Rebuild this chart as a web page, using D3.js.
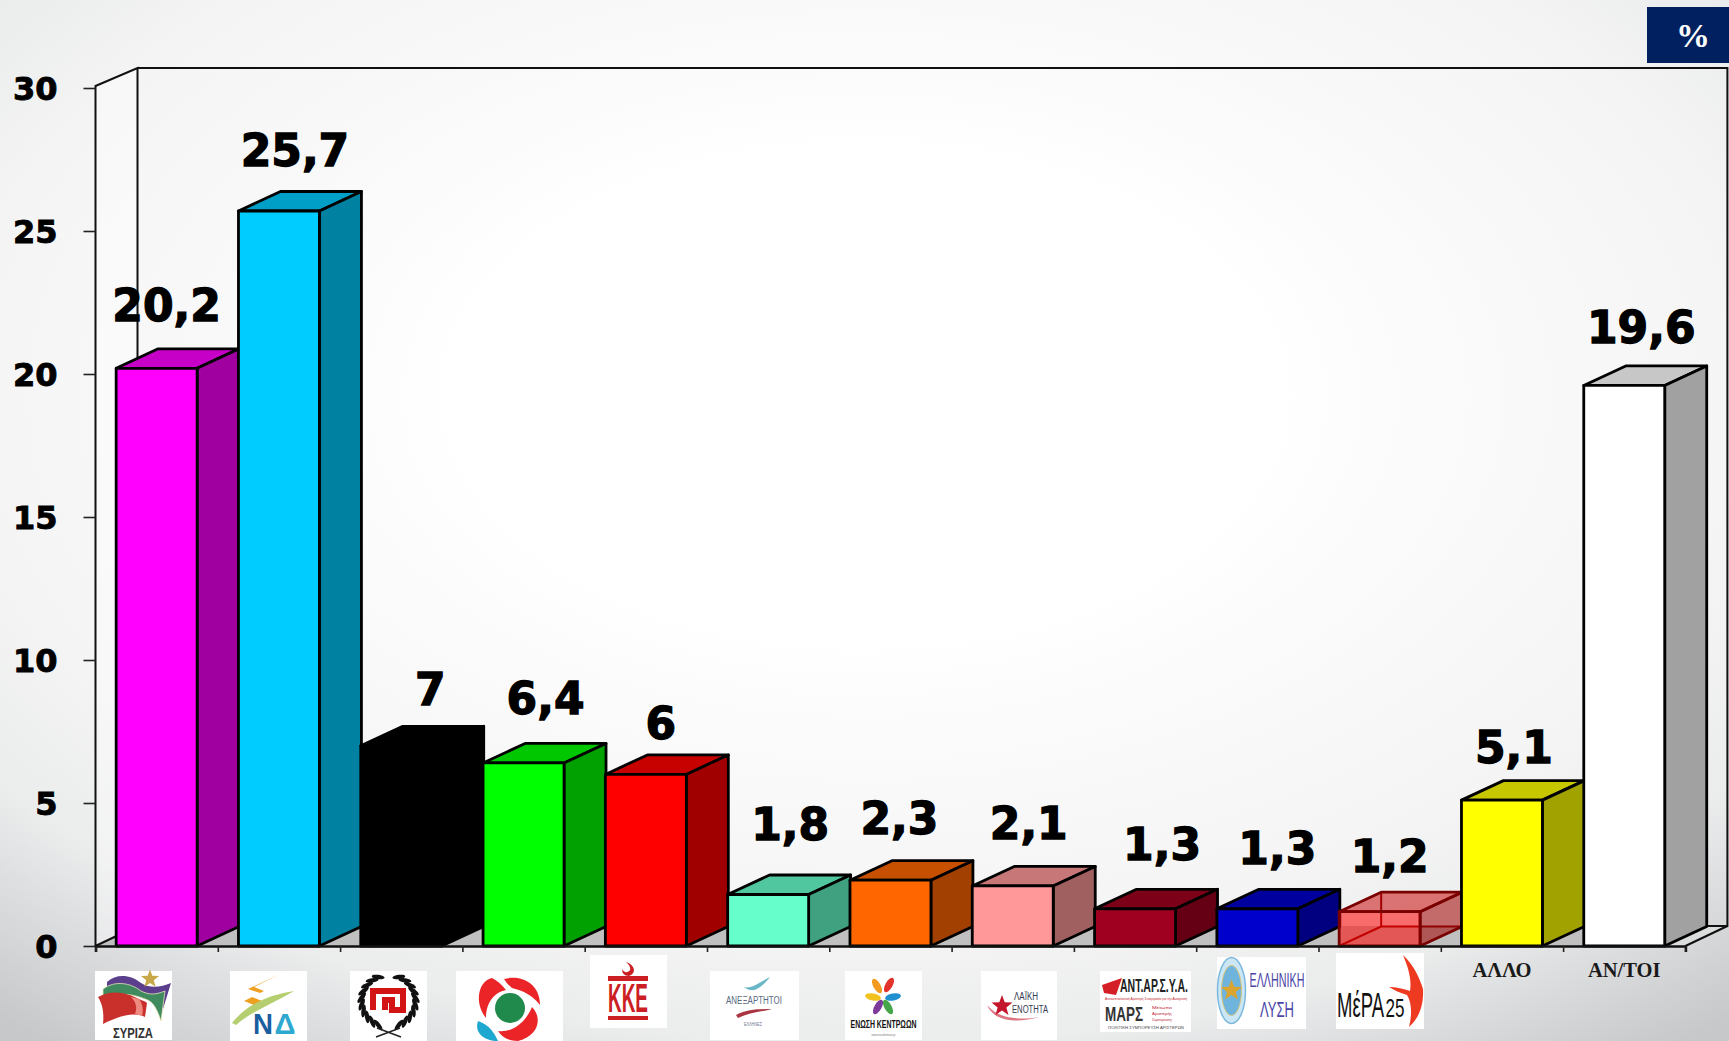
<!DOCTYPE html>
<html>
<head>
<meta charset="utf-8">
<script src="https://cdn.jsdelivr.net/npm/d3@7"></script>
<style>
  html, body { margin: 0; padding: 0; background: #fff; overflow: hidden; }
  svg { display: block; }
  .num { font-family: "DejaVu Sans", sans-serif; font-weight: 700; fill: #000; stroke: #000; }
  .cap { font-family: "Liberation Serif", serif; font-weight: 700; }
  .lg { font-family: "Liberation Sans", sans-serif; }
</style>
</head>
<body>
<div id="chart"></div>
<script>
var parties = ["ΣΥΡΙΖΑ", "ΝΔ", "ΧΑ", "ΚΙΝΑΛ", "ΚΚΕ", "ΑΝΕΛ", "ΕΚ", "ΛΑΕ", "ΑΝΤΑΡΣΥΑ", "ΕΛ", "ΜέΡΑ25", "ΑΛΛΟ", "ΑΝ/ΤΟΙ"];
var values = [20.2, 25.7, 7, 6.4, 6, 1.8, 2.3, 2.1, 1.3, 1.3, 1.2, 5.1, 19.6];
var fronts = ["#ff00ff", "#00ccff", "#000000", "#00ff00", "#ff0000", "#66ffcc", "#ff6600", "#ff9999", "#a00020", "#0000cc", "#ff0000", "#ffff00", "#ffffff"];
var yTicks = [0, 5, 10, 15, 20, 25, 30];
var textCats = ["ΑΛΛΟ", "ΑΝ/ΤΟΙ"];

// hand placed in the original, so nudged per bar
var labelDx = [10, 16, 29, 22, 15, 22, 9, 16, 27, 20, 10, 12, 17];
var labelDy = [47, 45, 41, 49, 35, 55, 46, 47, 49, 45, 40, 37, 42];

var width = 1729, height = 1041;
var x0 = 95.5, x1 = 1685.4, y0 = 946, y30 = 88;
var wallDx = 42, wallDy = 20, barDx = 42, barDy = 19.5;

var svg = d3.select("#chart").append("svg").attr("width", width).attr("height", height);

var grad = svg.append("defs").append("radialGradient").attr("id", "bg")
  .attr("cx", "50%").attr("cy", "38%").attr("r", "78%");
grad.append("stop").attr("offset", "0.3").attr("stop-color", "#ffffff");
grad.append("stop").attr("offset", "0.48").attr("stop-color", "#f9f9f9");
grad.append("stop").attr("offset", "0.65").attr("stop-color", "#f5f5f5");
grad.append("stop").attr("offset", "0.8").attr("stop-color", "#ebecec");
grad.append("stop").attr("offset", "0.88").attr("stop-color", "#dcdddf");
grad.append("stop").attr("offset", "1").attr("stop-color", "#c6c8ca");
svg.append("rect").attr("width", width).attr("height", height).attr("fill", "url(#bg)");

var y = d3.scaleLinear().domain([0, 30]).range([y0, y30]);
var x = d3.scaleBand().domain(parties).range([x0, x1]).paddingInner(0.338).paddingOuter(0.169);
var xEdge = d3.scaleLinear().domain([0, parties.length]).range([x0, x1]);

// floor and walls
var floorEnd = x(parties[parties.length - 1]) + x.bandwidth();
svg.append("path")
  .attr("d", "M" + [[x0, y0], [x0 + wallDx, y0 - wallDy], [floorEnd + wallDx, y0 - wallDy], [floorEnd, y0]].join("L") + "Z")
  .attr("fill", "#c0c0c0");
svg.append("path")
  .attr("d", "M" + [[floorEnd, y0], [floorEnd + wallDx, y0 - wallDy], [x1 + wallDx, y0 - wallDy], [x1, y0]].join("L") + "Z")
  .attr("fill", "#dcdddd");
svg.append("path")
  .attr("d", "M" + [[x0, y0], [x0, y30 - 2], [x0 + wallDx, y30 - wallDy], [x0 + wallDx, y0 - wallDy], [x0, y0]].join("L"))
  .attr("fill", "#fff").attr("fill-opacity", 0.35).attr("stroke", "#111").attr("stroke-width", 2);
svg.append("path")
  .attr("d", "M" + [[x0 + wallDx, y30 - wallDy], [x1 + wallDx, y30 - wallDy], [x1 + wallDx, y0 - wallDy], [x1, y0]].join("L"))
  .attr("fill", "none").attr("stroke", "#111").attr("stroke-width", 2);
svg.append("path")
  .attr("d", "M" + [[floorEnd + wallDx, y0 - wallDy], [x1 + wallDx, y0 - wallDy]].join("L"))
  .attr("fill", "none").attr("stroke", "#111").attr("stroke-width", 2);

// bars, left to right so that they overlap the way the original does
function poly(pts) { return "M" + pts.join("L") + "Z"; }
parties.forEach(function(p, i) {
  var left = x(p), right = left + x.bandwidth(), top = y(values[i]);
  var c = d3.rgb(fronts[i]);
  var shade = function(k) { return d3.rgb(c.r * k, c.g * k, c.b * k).formatHex(); };
  var glass = p == "ΜέΡΑ25";
  var edge = glass ? "#7a0000" : "#000";
  var g = svg.append("g").attr("stroke", edge).attr("stroke-width", 2.8).attr("stroke-linejoin", "round");
  if (glass) {
    g.append("path").attr("fill", "none").attr("stroke-width", 2)
      .attr("d", "M" + [[left, y0], [left + barDx, y0 - barDy], [left + barDx, top - barDy]].join("L")
        + "M" + [[left + barDx, y0 - barDy], [right + barDx, y0 - barDy]].join("L"));
  }
  g.append("path").attr("d", poly([[left, top], [left + barDx, top - barDy], [right + barDx, top - barDy], [right, top]]))
    .attr("fill", shade(0.78)).attr("fill-opacity", glass ? 0.52 : 1);
  g.append("path").attr("d", poly([[right, top], [right + barDx, top - barDy], [right + barDx, y0 - barDy], [right, y0]]))
    .attr("fill", shade(0.63)).attr("fill-opacity", glass ? 0.55 : 1);
  g.append("rect").attr("x", left).attr("y", top).attr("width", x.bandwidth()).attr("height", y0 - top)
    .attr("fill", fronts[i]).attr("fill-opacity", glass ? 0.55 : 1);
});

// axes
var yAxis = svg.append("g").attr("transform", "translate(" + x0 + ",0)")
  .call(d3.axisLeft(y).tickValues(yTicks).tickSize(12).tickPadding(26));
yAxis.select(".domain").remove();
yAxis.selectAll("line").attr("stroke", "#222").attr("stroke-width", 1.6);
yAxis.selectAll("text").attr("class", "num").attr("stroke-width", 0.9).style("font-size", "32px").attr("dy", "0.36em");

var xAxis = svg.append("g").attr("transform", "translate(0," + y0 + ")")
  .call(d3.axisBottom(xEdge).tickValues(d3.range(parties.length + 1)).tickSize(6).tickFormat(""));
xAxis.select(".domain").attr("stroke", "#111").attr("stroke-width", 2.6);
xAxis.selectAll("line").attr("stroke", "#222").attr("stroke-width", 1.6);

// value labels
svg.selectAll(".val").data(values).enter().append("text")
  .attr("class", "num val")
  .attr("text-anchor", "middle")
  .attr("stroke-width", 1.3)
  .style("font-size", "44px")
  .attr("x", function(d, i) { return x(parties[i]) + x.bandwidth() / 2 + labelDx[i]; })
  .attr("y", function(d, i) { return y(d) - labelDy[i]; })
  .text(function(d) { return String(d).replace(".", ","); });

// the two categories that have a text label instead of a logo
svg.selectAll(".catl").data(textCats).enter().append("text")
  .attr("class", "cap catl")
  .attr("text-anchor", "middle")
  .attr("fill", "#1a1a1a")
  .style("font-size", "20.5px")
  .attr("x", function(d) { return x(d) + x.bandwidth() / 2; })
  .attr("y", 977)
  .text(function(d) { return d; });

// percent badge
svg.append("rect").attr("x", 1647).attr("y", 7).attr("width", 82).attr("height", 56).attr("fill", "#002060");
svg.append("text").attr("class", "cap").attr("x", 1693).attr("y", 47).attr("text-anchor", "middle")
  .attr("fill", "#fff").style("font-size", "34px").text("%");

// logos under the axis
function logo(bx, by, bw, bh) {
  var g = svg.append("g").attr("transform", "translate(" + bx + "," + by + ")");
  g.append("rect").attr("width", bw).attr("height", bh).attr("fill", "#fff");
  return g;
}
// squeezes the text to the width it has in the logo
function label(g, s, cx, cy, size, len, color, weight) {
  var t = g.append("text").attr("class", "lg").attr("text-anchor", "middle")
    .attr("fill", color).attr("font-weight", weight || 700).style("font-size", size + "px").text(s);
  t.attr("transform", "translate(" + cx + "," + cy + ") scale(" + (len / t.node().getComputedTextLength()) + ",1)");
  return t;
}
function star(g, cx, cy, r, color) {
  var pts = d3.range(10).map(function(k) {
    var a = -Math.PI / 2 + k * Math.PI / 5, rr = k % 2 ? r * 0.42 : r;
    return [cx + rr * Math.cos(a), cy + rr * Math.sin(a)];
  });
  g.append("path").attr("d", poly(pts)).attr("fill", color);
}

// syriza
var l1 = logo(95, 971, 77, 69);
var flag = l1.append("g").attr("transform", "translate(0,-4)");
flag.append("path").attr("d", "M12 15C22 6 36 8 46 16C56 22 66 20 76 16L68 42C66 30 60 28 50 28C36 22 24 20 12 22Z").attr("fill", "#5b3f8c");
flag.append("path").attr("d", "M8 22C20 13 36 16 46 24C54 28 60 28 70 24L66 54C62 42 58 34 50 32C36 26 22 26 8 30Z").attr("fill", "#3f8a5e").attr("stroke", "#e8e4b8").attr("stroke-width", 0.8);
flag.append("path").attr("d", "M3 30C18 22 32 26 44 32C48 34 50 34 52 36L50 50C38 44 22 50 8 57C9 46 8 38 3 30Z").attr("fill", "#c9302c");
flag.append("path").attr("d", "M36 30C42 36 42 42 40 47L47 49C49 42 47 36 44 32Z").attr("fill", "#ee8a80");
star(l1, 55, 8, 9.5, "#c8a848");
label(l1, "ΣΥΡΙΖΑ", 38, 67, 14, 40, "#333");

// nd
var l2 = logo(230, 971, 77, 70);
l2.append("path").attr("d", "M50 3L18 18L30 22L14 30L24 34L18 40L32 30L22 26L34 20L24 16Z").attr("fill", "#f0a020");
l2.append("path").attr("d", "M2 52C18 32 40 24 64 20C44 32 22 40 6 54Z").attr("fill", "#b5cf70");
label(l2, "Ν", 33, 63, 29, 20, "#1b5e9f");
label(l2, "Δ", 55, 63, 29, 21, "#2fa8cf");

// xa
var l3 = logo(350, 971, 77, 70);
d3.range(24).forEach(function(k) {
  var a = (k + 0.5) / 24 * 2 * Math.PI;
  if (Math.abs(Math.sin(a) + 1) < 0.03 || Math.abs(Math.sin(a) - 1) < 0.03) return;
  l3.append("ellipse").attr("rx", 6.5).attr("ry", 2.2).attr("fill", "#111")
    .attr("transform", "translate(" + (38.5 + 27 * Math.cos(a)) + "," + (30 + 26 * Math.sin(a)) + ") rotate(" + (a * 180 / Math.PI + (Math.cos(a) > 0 ? 60 : 120)) + ")");
});
l3.append("path").attr("d", "M23 39V20H53V39H42V29H35V39").attr("fill", "none").attr("stroke", "#d21414").attr("stroke-width", 6);
l3.append("path").attr("d", "M26 66L50 57M51 66L27 57").attr("fill", "none").attr("stroke", "#222").attr("stroke-width", 1.4);

// kinal
var l4 = logo(456, 971, 107, 70);
l4.append("path").attr("d", "M36 7C22 10 18 32 30 47C30 34 36 22 50 19C46 14 42 10 36 7Z").attr("fill", "#ea2427");
l4.append("path").attr("d", "M48 8C62 4 84 10 84 34C76 24 68 20 56 17C52 14 50 11 48 8Z").attr("fill", "#ea2427");
l4.append("path").attr("d", "M76 36C86 46 84 64 62 70C52 70 46 66 42 60C58 62 70 50 76 36Z").attr("fill", "#ea2427");
l4.append("path").attr("d", "M22 50C34 54 38 62 42 70C28 70 18 62 22 50Z").attr("fill", "#1ea7cf");
l4.append("circle").attr("cx", 54).attr("cy", 37).attr("r", 15).attr("fill", "#1f8a4c");

// kke
var l5 = logo(590, 955, 77, 73);
l5.append("rect").attr("x", 18).attr("y", 21).attr("width", 40).attr("height", 5).attr("fill", "#cc1f24");
l5.append("rect").attr("x", 18).attr("y", 61).attr("width", 40).attr("height", 4).attr("fill", "#cc1f24");
label(l5, "ΚΚΕ", 38, 57, 40, 40, "#cc1f24");
l5.append("path").attr("d", "M36 7C45 10 47 18 39 21C34 21 32 18 32 14C34 18 38 18 40 15C41 12 39 10 36 7Z").attr("fill", "#cc1f24");

// anel
var l6 = logo(710, 971, 89, 69);
l6.append("path").attr("d", "M34 16C42 18 48 12 60 6C52 16 44 24 34 16Z").attr("fill", "#69b7c6");
label(l6, "ΑΝΕΞΑΡΤΗΤΟΙ", 44, 33, 11, 56, "#5b6a82", 400);
l6.append("path").attr("d", "M26 44C38 38 50 38 62 38C50 41 38 42 28 47Z").attr("fill", "#a8353f");
label(l6, "ΕΛΛΗΝΕΣ", 43, 55, 6, 18, "#6b7a8f", 400);

// ek
var l7 = logo(845, 971, 77, 69);
[["#f39a1f", 32, 15, -30], ["#e2322b", 44, 14, 30], ["#1f8fd0", 48, 26, 80], ["#44a648", 43, 36, 150], ["#7c3b9b", 33, 36, 210], ["#f2c21f", 28, 26, 280]].forEach(function(d) {
  l7.append("ellipse").attr("rx", 3.6).attr("ry", 8).attr("fill", d[0])
    .attr("transform", "translate(" + d[1] + "," + d[2] + ") rotate(" + d[3] + ")");
});
label(l7, "ΕΝΩΣΗ ΚΕΝΤΡΩΩΝ", 38.5, 57, 11, 66, "#111");
label(l7, "www.enosikentroon.gr", 38.5, 65, 3.5, 24, "#777", 400);

// lae
var l8 = logo(981, 971, 76, 69);
l8.append("path").attr("d", "M6 34C16 46 34 50 58 46C38 52 14 52 6 34Z").attr("fill", "#cf3a4a").attr("opacity", 0.7);
star(l8, 21, 35, 11, "#c3162c");
label(l8, "ΛΑΪΚΗ", 45, 29, 11, 24, "#343a55", 400);
label(l8, "ΕΝΟΤΗΤΑ", 49, 42, 11, 36, "#343a55", 400);

// antarsya
var l9 = logo(1100, 971, 91, 61);
l9.append("path").attr("d", "M2 14L22 7L16 24L4 22Z").attr("fill", "#d41f26");
label(l9, "ΑΝΤ.ΑΡ.Σ.Υ.Α.", 54, 21, 18, 68, "#222");
label(l9, "Αντικαπιταλιστική Αριστερή Συνεργασία για την Ανατροπή", 46, 29, 4, 82, "#c7202a", 400);
label(l9, "ΜΑΡΣ", 24, 50, 20, 38, "#333");
label(l9, "Μέτωπο", 62, 38, 4, 20, "#b23", 400);
label(l9, "Αριστερής", 62, 44, 4, 20, "#b23", 400);
label(l9, "Συμπόρευσης", 62, 50, 4, 20, "#b23", 400);
label(l9, "ΠΟΛΙΤΙΚΗ ΣΥΜΠΟΡΕΥΣΗ ΑΡΙΣΤΕΡΩΝ", 46, 58, 3.5, 76, "#444", 400);

// elliniki lysi
var l10 = logo(1217, 957, 89, 72);
l10.append("ellipse").attr("cx", 14.5).attr("cy", 33.5).attr("rx", 14).attr("ry", 33).attr("fill", "#cbe6f5").attr("stroke", "#7db9dc").attr("stroke-width", 1.5);
l10.append("ellipse").attr("cx", 14.5).attr("cy", 33.5).attr("rx", 10).attr("ry", 25).attr("fill", "#6fb4dc").attr("stroke", "#d9c67a");
star(l10, 14.5, 33.5, 11, "#d9a531");
label(l10, "ΕΛΛΗΝΙΚΗ", 60, 30, 20, 55, "#4a46a8", 400);
label(l10, "ΛΥΣΗ", 60, 60, 22, 34, "#4a46a8", 400);

// mera25
var l11 = logo(1336, 953, 88, 76);
l11.append("path").attr("d", "M67 2C78 12 84 26 87 36C88 54 82 66 73 74C76 62 76 50 71 42C64 40 58 37 53 34C60 34 68 36 74 38C76 26 72 14 67 2Z").attr("fill", "#ef3a22");
label(l11, "ΜέΡΑ", 24.5, 64, 36, 47, "#111", 400);
label(l11, "25", 59, 64, 26, 19, "#111", 400);
</script>
</body>
</html>
